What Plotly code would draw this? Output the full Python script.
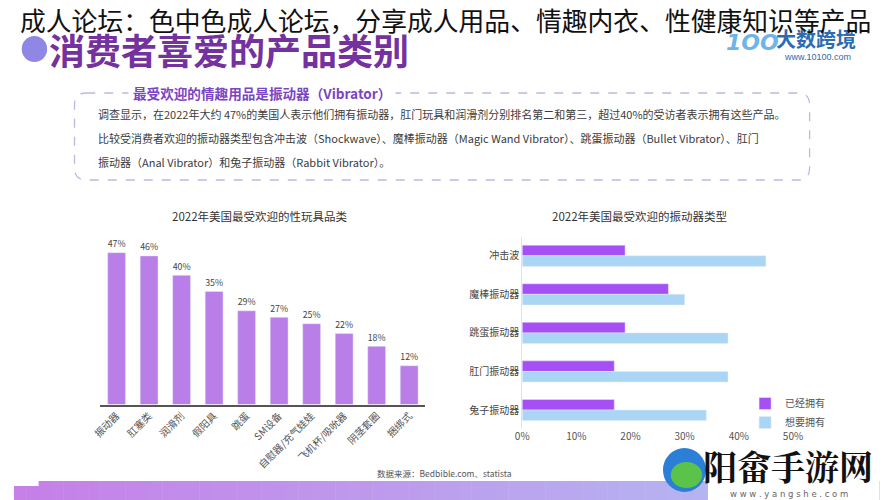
import plotly.graph_objects as go

# ---------------- data ----------------
toy_categories = ["振动器", "肛塞类", "润滑剂", "假阳具", "跳蛋", "SM设备",
                  "自慰器/充气娃娃", "飞机杯/吸吮器", "阴茎套圈", "捆绑式"]
toy_values = [47, 46, 40, 35, 29, 27, 25, 22, 18, 12]

vib_categories = ["冲击波", "魔棒振动器", "跳蛋振动器", "肛门振动器", "兔子振动器"]
vib_owned = [19, 27, 19, 17, 17]
vib_wanted = [45, 30, 38, 38, 34]
vib_ticks = [0, 10, 20, 30, 40, 50]
vib_tick_labels = ["0%", "10%", "20%", "30%", "40%", "50%"]

W, H = 889, 500
FONT = "Noto Sans CJK SC"


def px(x):
    return x / W


def py(y):
    return 1 - y / H


fig = go.Figure()

fig.add_trace(go.Bar(
    x=toy_categories, y=toy_values,
    text=[f"{v}%" for v in toy_values], textposition="outside",
    textfont=dict(size=10, color="#444", family=FONT),
    marker=dict(color="#b97ee8"), cliponaxis=False,
    xaxis="x", yaxis="y", showlegend=False, hoverinfo="skip",
))

fig.add_trace(go.Bar(
    y=vib_categories, x=vib_owned, orientation="h", name="已经拥有",
    marker=dict(color="#a64ff5"), xaxis="x2", yaxis="y2",
))
fig.add_trace(go.Bar(
    y=vib_categories, x=vib_wanted, orientation="h", name="想要拥有",
    marker=dict(color="#abd5f5"), xaxis="x2", yaxis="y2",
))

shapes = []
annotations = []

# bottom gradient band
n = 70
x_start, x_end = 4, 889
c0 = (198, 128, 232)
c1 = (178, 192, 244)
for i in range(n):
    t = i / (n - 1)
    col = tuple(int(c0[k] + (c1[k] - c0[k]) * t) for k in range(3))
    xa = x_start + (x_end - x_start) * i / n
    xb = x_start + (x_end - x_start) * (i + 1) / n + 0.5
    y_top = 481 if xa > 22 else 486
    shapes.append(dict(type="rect", xref="paper", yref="paper",
                       x0=px(xa), x1=px(xb), y0=py(500), y1=py(y_top),
                       line=dict(width=0), fillcolor=f"rgb{col}", layer="below"))

# dashed rounded box
x0, x1, y0, y1, r = 66, 818, 93, 180, 12
path = (f"M {px(x0 + r)},{py(y0)} L {px(x1 - r)},{py(y0)} "
        f"Q {px(x1)},{py(y0)} {px(x1)},{py(y0 + r)} L {px(x1)},{py(y1 - r)} "
        f"Q {px(x1)},{py(y1)} {px(x1 - r)},{py(y1)} L {px(x0 + r)},{py(y1)} "
        f"Q {px(x0)},{py(y1)} {px(x0)},{py(y1 - r)} L {px(x0)},{py(y0 + r)} "
        f"Q {px(x0)},{py(y0)} {px(x0 + r)},{py(y0)} Z")
shapes.append(dict(type="path", xref="paper", yref="paper", path=path,
                   line=dict(color="#c2b5e2", width=1.3, dash="dash"), layer="below"))

# title bullet circle
shapes.append(dict(type="circle", xref="paper", yref="paper",
                   x0=px(12), x1=px(38), y0=py(62), y1=py(36),
                   fillcolor="#8f86e6", line=dict(width=0)))

# watermark background + icon
shapes.append(dict(type="rect", xref="paper", yref="paper",
                   x0=px(714), x1=px(889), y0=py(500), y1=py(446),
                   fillcolor="white", line=dict(width=0)))
shapes.append(dict(type="circle", xref="paper", yref="paper",
                   x0=px(668), x1=px(712), y0=py(492), y1=py(448),
                   fillcolor="#2b7fd6", line=dict(width=0)))
shapes.append(dict(type="circle", xref="paper", yref="paper",
                   x0=px(676), x1=px(708), y0=py(488), y1=py(462),
                   fillcolor="#5cc34a", line=dict(width=0)))

# logo (under the overlay text)
annotations.append(dict(x=px(760), y=py(43), xref="paper", yref="paper",
                        text="<b><i>1OO</i></b>", showarrow=False,
                        font=dict(size=22, color="#6cb4ea", family="DejaVu Sans"),
                        xanchor="center", yanchor="middle"))
annotations.append(dict(x=px(825), y=py(39), xref="paper", yref="paper",
                        text="<b>大数跨境</b>", showarrow=False,
                        font=dict(size=20, color="#2c6cb0", family=FONT),
                        xanchor="center", yanchor="middle"))
annotations.append(dict(x=px(826), y=py(57), xref="paper", yref="paper",
                        text="www.10100.com", showarrow=False,
                        font=dict(size=9, color="#2c6cb0", family="Liberation Sans"),
                        xanchor="center", yanchor="middle"))
# section title
annotations.append(dict(x=px(38), y=py(49), xref="paper", yref="paper",
                        text="<b>消费者喜爱的产品类别</b>", showarrow=False,
                        font=dict(size=36, color="#74329f", family=FONT),
                        xanchor="left", yanchor="middle"))
# top overlay text
annotations.append(dict(x=px(446), y=py(19), xref="paper", yref="paper",
                        text="成人论坛：色中色成人论坛，分享成人用品、情趣内衣、性健康知识等产品",
                        showarrow=False, font=dict(size=25.8, color="#111", family=FONT),
                        xanchor="center", yanchor="middle"))

# box header
annotations.append(dict(x=px(258), y=py(93), xref="paper", yref="paper",
                        text="<b>最受欢迎的情趣用品是振动器（Vibrator）</b>", showarrow=False,
                        font=dict(size=13.6, color="#7a44c2", family=FONT),
                        bgcolor="white", borderpad=4,
                        xanchor="center", yanchor="middle"))
body_lines = [
    "调查显示，在2022年大约 47%的美国人表示他们拥有振动器，肛门玩具和润滑剂分别排名第二和第三，超过40%的受访者表示拥有这些产品。",
    "比较受消费者欢迎的振动器类型包含冲击波（Shockwave）、魔棒振动器（Magic Wand Vibrator）、跳蛋振动器（Bullet Vibrator）、肛门",
    "振动器（Anal Vibrator）和兔子振动器（Rabbit Vibrator）。",
]
for i, line in enumerate(body_lines):
    annotations.append(dict(x=px(88), y=py(114 + 24 * i), xref="paper", yref="paper",
                            text=line, showarrow=False,
                            font=dict(size=11, color="#3c3c3c", family=FONT),
                            xanchor="left", yanchor="middle"))

# chart titles
annotations.append(dict(x=px(256), y=py(216), xref="paper", yref="paper",
                        text="2022年美国最受欢迎的性玩具品类", showarrow=False,
                        font=dict(size=11.5, color="#333", family=FONT),
                        xanchor="center", yanchor="middle"))
annotations.append(dict(x=px(644), y=py(216), xref="paper", yref="paper",
                        text="2022年美国最受欢迎的振动器类型", showarrow=False,
                        font=dict(size=11.5, color="#333", family=FONT),
                        xanchor="center", yanchor="middle"))
# source
annotations.append(dict(x=px(445), y=py(473), xref="paper", yref="paper",
                        text="数据来源：Bedbible.com、statista", showarrow=False,
                        font=dict(size=8.5, color="#555", family=FONT),
                        xanchor="center", yanchor="middle"))
# watermark text
annotations.append(dict(x=px(796), y=py(465), xref="paper", yref="paper",
                        text="<b>阳畲手游网</b>", showarrow=False,
                        font=dict(size=34, color="#111", family="Noto Serif CJK SC, " + FONT),
                        xanchor="center", yanchor="middle"))
annotations.append(dict(x=px(797), y=py(494), xref="paper", yref="paper",
                        text="w w w . y a n g s h e . c o m", showarrow=False,
                        font=dict(size=8.5, color="#666", family="DejaVu Sans"),
                        xanchor="center", yanchor="middle"))

fig.update_layout(
    width=W, height=H,
    margin=dict(l=0, r=0, t=0, b=0),
    paper_bgcolor="white", plot_bgcolor="rgba(0,0,0,0)",
    font=dict(family=FONT, color="#444"),
    barmode="group",
    bargap=0.45,
    xaxis=dict(domain=[px(92.4), px(425)], range=[-0.5, 9.5],
               showline=True, linecolor="#555", linewidth=1.5,
               tickangle=-45, tickfont=dict(size=10, color="#555", family=FONT),
               showgrid=False, ticks="", anchor="y", fixedrange=True),
    yaxis=dict(domain=[py(404.5), py(243)], range=[0, 50], visible=False,
               anchor="x", fixedrange=True),
    xaxis2=dict(domain=[px(524), px(801)], range=[0, 50], tickvals=vib_ticks,
                ticktext=vib_tick_labels, showgrid=False, zeroline=False,
                showline=False, tickfont=dict(size=10, color="#555"),
                anchor="y2", fixedrange=True),
    yaxis2=dict(domain=[py(429.3), py(236.5)], autorange="reversed",
                showline=True, linecolor="#e2e2e2", linewidth=1,
                tickfont=dict(size=10, color="#444", family=FONT), ticks="",
                anchor="x2", fixedrange=True),
    legend=dict(x=px(752), y=py(389), xanchor="left", yanchor="top",
                font=dict(size=10, color="#555", family=FONT),
                bgcolor="rgba(0,0,0,0)", itemwidth=30, tracegroupgap=0),
    shapes=shapes,
    annotations=annotations,
)

fig.write_html("out.html")
